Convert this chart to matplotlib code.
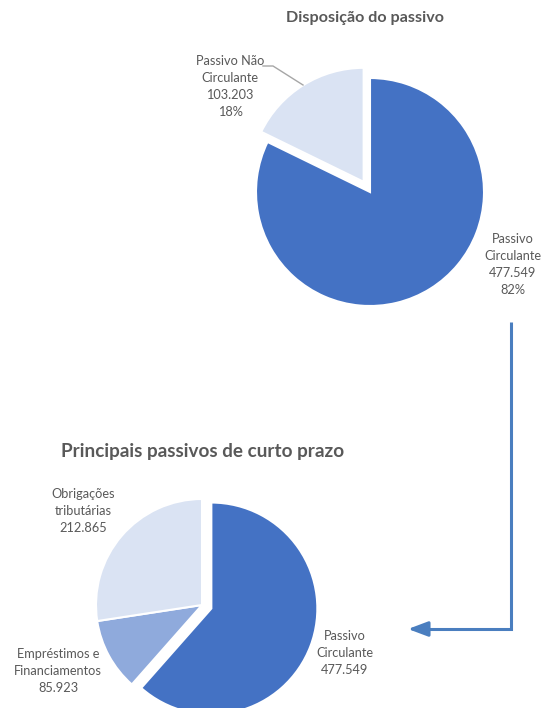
import matplotlib
matplotlib.use("Agg")
import matplotlib.pyplot as plt

plt.rcParams['font.family'] = ['Lato', 'DejaVu Sans']

# Data
top_title = "Disposição do passivo"
top_labels = ["Passivo Circulante", "Passivo Não Circulante"]
top_values = [477.549, 103.203]
top_pcts = ["82%", "18%"]

bot_title = "Principais passivos de curto prazo"
bot_labels = ["Passivo Circulante", "Empréstimos e Financiamentos", "Obrigações tributárias"]
bot_values = [477.549, 85.923, 212.865]

def fmt(v):
    return f"{v:.3f}"

W, H = 542, 708
fig = plt.figure(figsize=(W / 100, H / 100), dpi=100)
ax = fig.add_axes([0, 0, 1, 1])

def Y(py):
    return H - py

grey = "#595959"
c_dark = "#4472C4"
c_mid = "#8FAADC"
c_light = "#DAE3F3"

# Top pie
ax.pie(top_values, colors=[c_dark, c_light], startangle=90, counterclock=False,
       center=(370, Y(192)), radius=114, explode=[0, 12],
       wedgeprops=dict(edgecolor="white", linewidth=1.5), frame=True)

# Bottom pie
ax.pie(bot_values, colors=[c_dark, c_mid, c_light], startangle=90, counterclock=False,
       center=(202, Y(605)), radius=106, explode=[10, 0, 0],
       wedgeprops=dict(edgecolor="white", linewidth=1.5), frame=True)

ax.set_xlim(0, W)
ax.set_ylim(0, H)
ax.set_aspect('auto')
ax.axis('off')

# Titles
ax.text(365, Y(18), top_title, ha='center', va='center', fontsize=11.6,
        fontweight='bold', color=grey)
ax.text(203, Y(452), bot_title, ha='center', va='center', fontsize=13.6,
        fontweight='bold', color=grey)

lab_kw = dict(ha='center', va='top', fontsize=9.2, color=grey, linespacing=1.5)

# Top labels
ax.text(230, Y(55), "Passivo Não\nCirculante\n" + fmt(top_values[1]) + "\n" + top_pcts[1], **lab_kw)
ax.text(513, Y(233), "Passivo\nCirculante\n" + fmt(top_values[0]) + "\n" + top_pcts[0], **lab_kw)
ax.plot([263, 273, 303], [Y(66), Y(66), Y(85)], color="#A6A6A6", lw=1)

# Bottom labels
ax.text(83, Y(488), "Obrigações\ntributárias\n" + fmt(bot_values[2]), **lab_kw)
ax.text(58, Y(648), "Empréstimos e\nFinanciamentos\n" + fmt(bot_values[1]), **lab_kw)
ax.text(345, Y(630), "Passivo\nCirculante\n" + fmt(bot_values[0]), **lab_kw)

# Connector arrow
arrow_c = "#4A7EBF"
ax.plot([511, 511, 425], [Y(322), Y(629), Y(629)], color=arrow_c, lw=2.2,
        solid_joinstyle='miter', solid_capstyle='butt')
ax.annotate("", xy=(408, Y(629)), xytext=(428, Y(629)),
            arrowprops=dict(arrowstyle="-|>,head_length=1.2,head_width=0.45",
                            color=arrow_c, lw=2.2, shrinkA=0, shrinkB=0))

fig.savefig("out.png", dpi=100)
